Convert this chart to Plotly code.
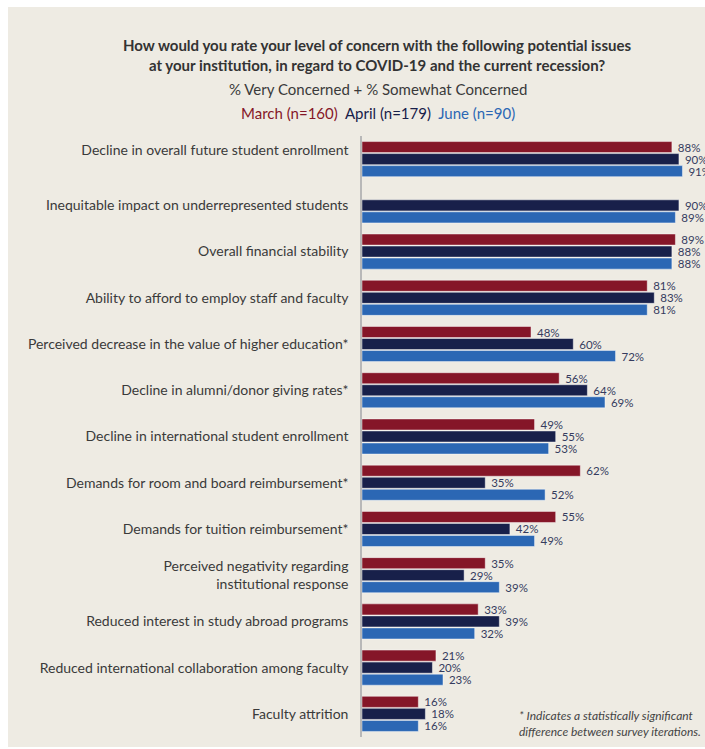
import plotly.graph_objects as go

# Survey items, top to bottom
issues = [
    "Decline in overall future student enrollment<br> ",
    "Inequitable impact on underrepresented students",
    "Overall financial stability",
    "Ability to afford to employ staff and faculty",
    "Perceived decrease in the value of higher education*",
    "Decline in alumni/donor giving rates*",
    "Decline in international student enrollment",
    "Demands for room and board reimbursement*",
    "Demands for tuition reimbursement*",
    "Perceived negativity regarding<br>institutional response",
    "Reduced interest in study abroad programs",
    "Reduced international collaboration among faculty",
    "Faculty attrition",
]

# % Very Concerned + % Somewhat Concerned
march = [88, None, 89, 81, 48, 56, 49, 62, 55, 35, 33, 21, 16]
april = [90, 90, 88, 83, 60, 64, 55, 35, 42, 29, 39, 20, 18]
june = [91, 89, 88, 81, 72, 69, 53, 52, 49, 39, 32, 23, 16]

series_names = ["March (n=160)", "April (n=179)", "June (n=90)"]
series_colors = ["#851628", "#18204A", "#2B67B4"]

W, H = 705, 749
ML, MR, MT, MB = 362, 0, 136, 12
PW, PH = W - ML - MR, H - MT - MB


def px_x(x):
    return (x - ML) / PW


def px_y(y):
    return (H - MB - y) / PH


fig = go.Figure()
for name, vals, color in zip(series_names, [march, april, june], series_colors):
    fig.add_trace(go.Bar(
        y=issues,
        x=vals,
        orientation="h",
        name=name,
        marker=dict(color=color, line=dict(color="rgba(255,255,255,0.45)", width=1)),
        texttemplate=" %{x}%",
        textposition="outside",
        constraintext="none",
        textfont=dict(family="Lato", size=11.5, color="#353b5e"),
        cliponaxis=False,
        hoverinfo="skip",
    ))

# Panel background inset from the page edges
fig.add_shape(
    type="rect", xref="paper", yref="paper",
    x0=px_x(8), x1=px_x(W + 5), y0=px_y(747), y1=px_y(7),
    fillcolor="#EEEBE3", line=dict(width=0), layer="below",
)

title_font = "Lato"
fig.add_annotation(
    xref="paper", yref="paper", x=px_x(377), y=px_y(55), xanchor="center", yanchor="middle",
    text="<b>How would you rate your level of concern with the following potential issues<br>"
         "at your institution, in regard to COVID-19 and the current recession?</b>",
    showarrow=False, align="center",
    font=dict(family=title_font, size=15, color="#333333"),
)
fig.add_annotation(
    xref="paper", yref="paper", x=px_x(378), y=px_y(89), xanchor="center", yanchor="middle",
    text="% Very Concerned + % Somewhat Concerned",
    showarrow=False, font=dict(family=title_font, size=15, color="#3a3a3a"),
)
legend_line = "  ".join(
    f'<span style="color:{c}">{n}</span>' for n, c in zip(series_names, series_colors)
)
fig.add_annotation(
    xref="paper", yref="paper", x=px_x(378), y=px_y(113), xanchor="center", yanchor="middle",
    text=legend_line, showarrow=False, font=dict(family=title_font, size=15),
)
fig.add_annotation(
    xref="paper", yref="paper", x=px_x(517), y=px_y(723), xanchor="left", yanchor="middle",
    text="<i>* Indicates a statistically significant<br>difference between survey iterations.</i>",
    showarrow=False, align="left",
    font=dict(family="Lato", size=12, color="#444444"),
)

fig.update_layout(
    width=W, height=H,
    margin=dict(l=ML, r=MR, t=MT, b=MB, pad=0),
    paper_bgcolor="white",
    plot_bgcolor="rgba(0,0,0,0)",
    barmode="group",
    bargap=0.22,
    bargroupgap=0.08,
    showlegend=False,
    xaxis=dict(range=[0, 97.4], visible=False, fixedrange=True),
    yaxis=dict(
        autorange="reversed",
        showline=True, linecolor="#b8b8b8", linewidth=1.5,
        ticks="", ticklabelstandoff=9,
        tickfont=dict(family="Lato", size=14, color="#3a3a3a"),
        showgrid=False, fixedrange=True,
    ),
)

fig.write_html("out.html", config={"displayModeBar": False})
